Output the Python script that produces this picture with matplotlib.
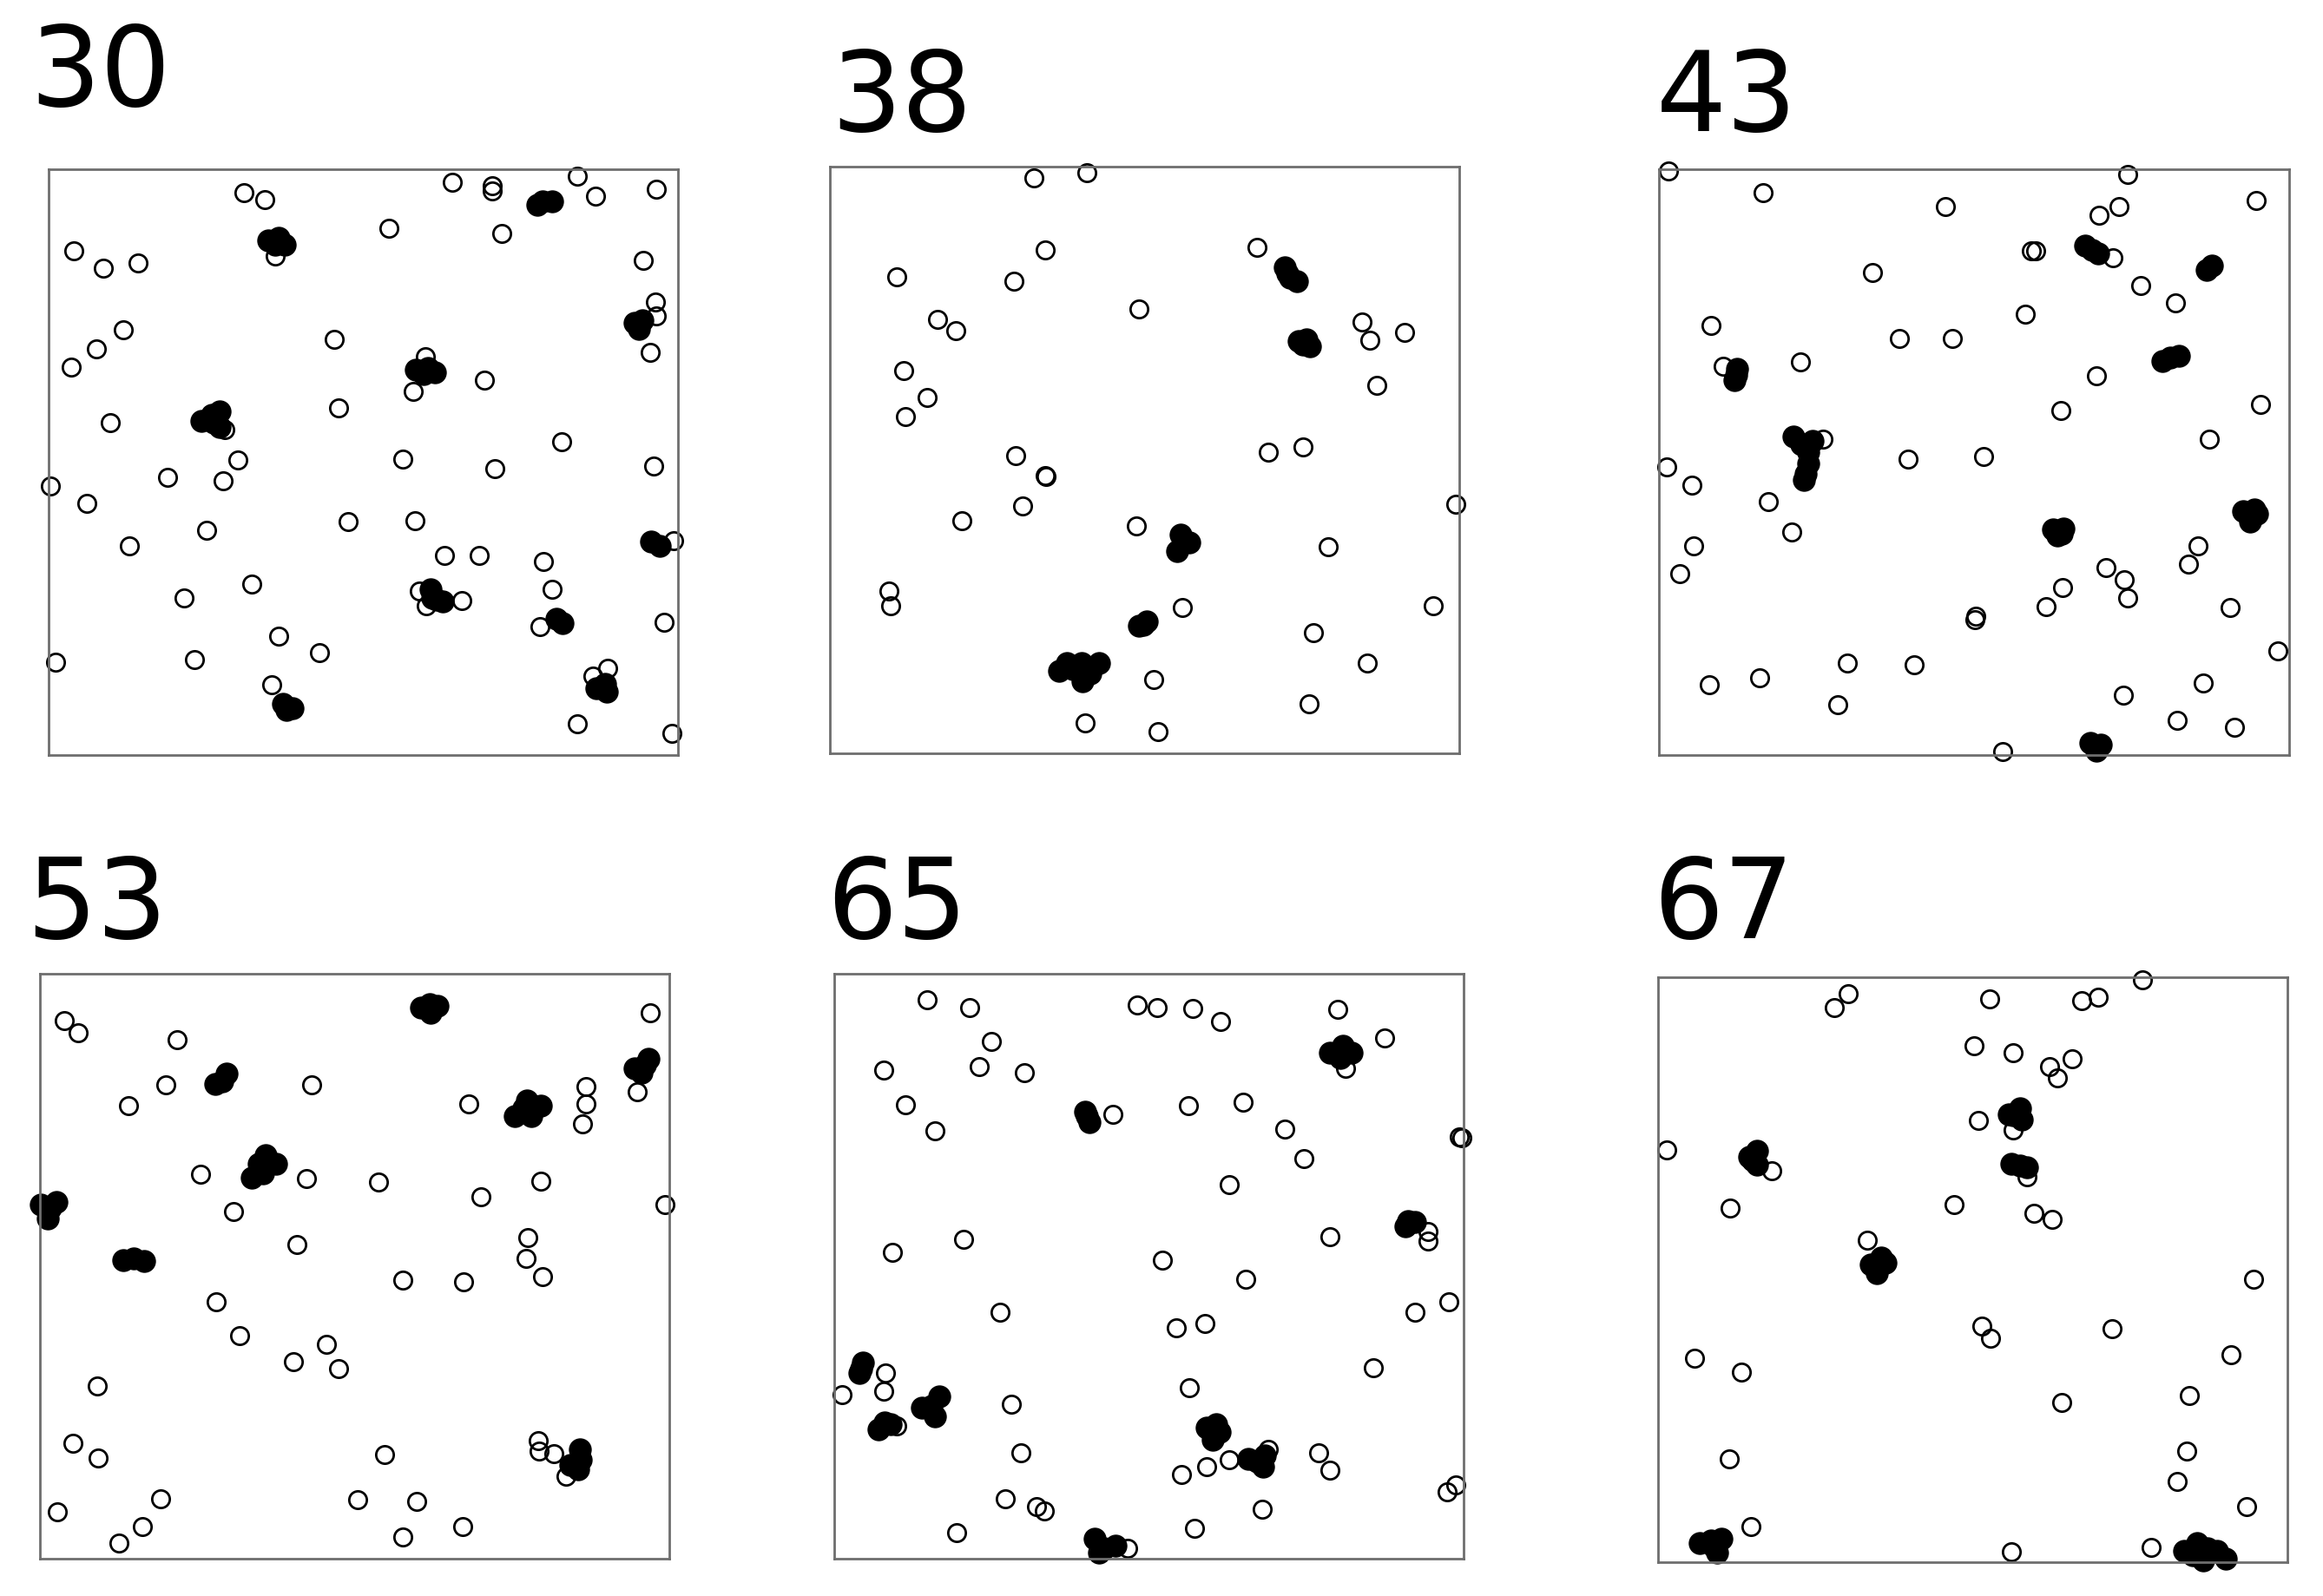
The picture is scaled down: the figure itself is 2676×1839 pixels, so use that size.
import matplotlib
matplotlib.use('Agg')
import matplotlib.pyplot as plt

# panel labels (time steps)
labels = ["30", "38", "43", "53", "65", "67"]

# ---- step 30 ----
p30_open_x = [31.0, 34.3, 64.1, 70.4, 70.5, 84.0, 86.9, 96.5, 54.0, 71.9, 4.0, 8.6, 14.2, 35.9,
              94.4, 96.3, 96.5, 95.6, 11.8, 7.6, 3.6, 45.4, 59.8, 57.9, 69.2, 46.0, 9.7, 27.9,
              81.4, 30.1, 56.2, 70.9, 96.1, 18.9, 27.7, 0.3, 6.1, 47.6, 58.2, 25.1, 99.3, 12.8,
              62.9, 68.3, 78.6, 32.3, 80.0, 21.5, 58.9, 59.9, 65.6, 78.0, 97.8, 36.5, 43.0, 1.1,
              23.2, 35.4, 86.4, 88.8, 84.0, 99.0]
p30_open_y = [96.1, 94.8, 97.8, 97.3, 96.3, 98.9, 95.4, 96.6, 89.9, 89.1, 86.1, 83.2, 84.1, 85.2,
              84.5, 77.3, 75.0, 68.8, 72.6, 69.3, 66.3, 71.0, 68.0, 62.1, 64.0, 59.2, 56.7, 55.5,
              53.4, 50.4, 50.5, 48.9, 49.3, 47.4, 46.8, 45.9, 43.0, 39.9, 40.0, 38.3, 36.6, 35.6,
              34.0, 34.0, 33.0, 29.2, 28.2, 26.7, 27.9, 25.5, 26.3, 21.9, 22.6, 20.3, 17.4, 15.8,
              16.2, 12.0, 13.4, 14.8, 5.2, 3.6]
p30_filled_x = [34.9, 36.5, 37.5, 35.9, 77.6, 80.0, 78.5, 93.0, 93.7, 94.3, 58.3, 60.3, 61.3, 59.6,
                24.2, 25.9, 27.2, 27.2, 26.2, 95.7, 97.0, 60.6, 61.6, 62.6, 60.9, 80.6, 81.6,
                87.0, 88.3, 88.6, 37.2, 38.7, 37.7]
p30_filled_y = [87.9, 88.3, 87.2, 87.2, 94.0, 94.6, 94.6, 73.8, 72.8, 74.2, 65.8, 66.1, 65.4, 65.1,
                57.0, 58.1, 58.7, 56.0, 56.7, 36.4, 35.6, 28.2, 26.5, 26.2, 26.8, 23.2, 22.5,
                11.4, 12.1, 10.7, 8.7, 7.9, 7.6]

# ---- step 38 ----
p38_open_x = [32.4, 40.9, 34.3, 67.9, 10.7, 29.3, 49.2, 17.2, 20.0, 84.6, 85.8, 91.4, 11.8, 86.9,
              15.5, 12.0, 69.7, 75.2, 29.5, 34.3, 34.4, 30.7, 99.5, 21.0, 48.8, 79.2, 9.5, 9.7,
              56.0, 95.9, 76.8, 85.4, 51.5, 76.2, 40.6, 52.2]
p38_open_y = [98.1, 99.0, 85.8, 86.2, 81.2, 80.4, 75.8, 74.0, 72.0, 73.5, 70.4, 71.8, 65.2, 62.7,
              60.7, 57.4, 51.3, 52.2, 50.7, 47.4, 47.2, 42.1, 42.4, 39.7, 38.7, 35.2, 27.6, 25.1,
              24.9, 25.2, 20.6, 15.4, 12.6, 8.4, 5.1, 3.7]
p38_filled_x = [72.3, 73.1, 74.2, 72.7, 74.5, 75.8, 76.3, 75.2, 55.8, 57.1, 55.2, 49.1, 50.4, 49.8,
                36.4, 37.7, 40.1, 42.8, 41.4, 40.2, 38.7]
p38_filled_y = [82.8, 81.1, 80.4, 81.8, 70.3, 70.6, 69.3, 69.6, 37.2, 35.9, 34.5, 21.7, 22.4, 21.9,
                14.0, 15.3, 15.3, 15.3, 13.6, 12.3, 14.3]

# ---- step 43 ----
p43_open_x = [1.4, 74.4, 16.5, 45.5, 73.0, 69.9, 94.8, 59.1, 59.8, 72.0, 33.8, 76.5, 82.0, 58.1,
              8.2, 38.1, 46.6, 10.1, 22.4, 69.4, 95.5, 63.8, 26.0, 87.4, 1.2, 39.5, 51.5, 5.2,
              17.3, 21.1, 5.5, 85.5, 84.1, 3.2, 70.9, 73.8, 64.0, 74.4, 61.4, 90.7, 50.2, 50.1,
              98.3, 29.8, 40.5, 8.0, 16.0, 86.4, 73.7, 28.3, 82.3, 91.4, 54.6]
p43_open_y = [99.7, 99.2, 96.1, 93.7, 93.7, 92.2, 94.7, 86.1, 86.1, 84.9, 82.4, 80.2, 77.2, 75.3,
              73.4, 71.1, 71.1, 66.4, 67.1, 64.7, 59.8, 58.8, 53.9, 53.9, 49.1, 50.5, 51.0, 46.1,
              43.2, 38.0, 35.6, 35.7, 32.6, 30.9, 31.9, 29.9, 28.5, 26.7, 25.3, 25.1, 23.6, 23.1,
              17.7, 15.7, 15.3, 12.0, 13.2, 12.2, 10.1, 8.6, 5.9, 4.7, 0.5]
p43_filled_x = [67.7, 68.7, 69.7, 86.9, 87.8, 79.9, 81.1, 82.5, 12.4, 12.0, 12.2, 21.3, 22.5, 24.4,
                23.6, 23.7, 23.2, 22.9, 62.5, 63.9, 63.2, 64.2, 92.8, 94.5, 93.8, 95.0, 68.5,
                70.1, 69.4]
p43_filled_y = [87.0, 86.3, 85.7, 82.8, 83.6, 67.2, 67.8, 68.2, 65.9, 64.0, 64.9, 54.3, 53.0, 53.6,
                51.7, 49.7, 48.0, 47.0, 38.5, 37.8, 37.5, 38.7, 41.6, 41.9, 39.9, 41.2, 2.0,
                1.7, 0.7]

# ---- step 53 ----
p53_open_x = [3.9, 6.0, 21.8, 97.0, 20.0, 43.2, 14.1, 68.1, 86.8, 86.7, 86.2, 94.8, 25.5, 42.3,
              53.8, 79.5, 70.1, 99.3, 30.7, 40.8, 77.5, 77.2, 79.9, 57.7, 67.3, 28.0, 31.7, 45.5,
              40.2, 47.4, 9.1, 5.3, 9.2, 54.7, 79.1, 79.3, 81.6, 83.5, 19.1, 50.5, 59.8, 2.8,
              16.3, 67.1, 57.6, 12.5]
p53_open_y = [92.0, 90.0, 88.7, 93.3, 81.1, 81.0, 77.4, 77.7, 80.7, 77.7, 74.4, 79.9, 65.7, 65.0,
              64.4, 64.5, 61.9, 60.5, 59.4, 53.7, 55.0, 51.3, 48.2, 47.6, 47.4, 44.0, 38.1, 36.7,
              33.7, 32.5, 29.5, 19.8, 17.2, 17.8, 20.2, 18.5, 18.0, 14.2, 10.3, 10.1, 9.8, 8.0,
              5.5, 5.5, 3.8, 2.7]
p53_filled_x = [60.5, 61.9, 63.2, 62.0, 94.4, 96.6, 95.5, 96.1, 27.8, 29.7, 28.9, 75.4, 77.4, 79.5,
                78.1, 76.8, 33.7, 35.9, 37.5, 35.4, 34.8, 0.2, 2.6, 1.2, 1.6, 13.3, 14.9, 16.5,
                85.8, 84.2, 85.5, 85.9]
p53_filled_y = [94.2, 94.9, 94.6, 93.3, 83.9, 85.5, 83.1, 84.5, 81.2, 83.0, 81.6, 75.7, 78.4, 77.4,
                75.7, 77.1, 65.2, 69.0, 67.6, 65.9, 67.6, 60.5, 61.0, 58.2, 59.9, 51.1, 51.3, 50.9,
                18.7, 16.0, 15.3, 17.0]

# ---- step 65 ----
p65_open_x = [14.8, 21.5, 48.2, 51.3, 57.0, 61.4, 80.0, 87.4, 81.2, 25.0, 7.9, 23.0, 30.2, 11.3,
              16.0, 44.3, 56.3, 65.0, 71.6, 74.6, 62.8, 99.3, 99.7, 94.3, 94.3, 78.8, 20.6, 9.3,
              52.1, 65.4, 97.7, 92.3, 26.4, 58.9, 54.4, 85.7, 8.2, 7.8, 1.2, 56.4, 28.2, 9.9,
              29.7, 68.9, 62.7, 59.2, 55.1, 77.0, 78.8, 97.3, 98.8, 27.2, 32.2, 33.4, 68.0, 19.5,
              57.3, 46.6]
p65_open_y = [95.6, 94.3, 94.7, 94.3, 94.1, 91.8, 93.9, 89.0, 83.9, 88.4, 83.5, 84.1, 83.1, 77.6,
              73.2, 76.0, 77.4, 78.0, 73.4, 68.5, 64.0, 72.2, 72.0, 55.9, 54.3, 55.1, 54.7, 52.4,
              51.1, 47.8, 44.0, 42.2, 42.2, 40.2, 39.5, 32.7, 31.8, 28.6, 28.1, 29.3, 26.5, 22.7,
              18.2, 18.7, 16.9, 15.7, 14.4, 18.2, 15.2, 11.5, 12.6, 10.3, 8.9, 8.2, 8.5, 4.5,
              5.3, 1.8]
p65_filled_x = [78.8, 80.8, 82.2, 80.4, 39.9, 40.6, 40.2, 90.8, 92.3, 91.1, 4.5, 4.0, 4.3, 14.0,
                16.7, 16.0, 15.5, 7.0, 8.0, 9.0, 59.1, 60.7, 60.1, 61.3, 65.8, 68.4, 68.1, 67.1,
                41.4, 42.9, 44.7, 42.1]
p65_filled_y = [86.5, 87.7, 86.5, 85.6, 76.5, 74.7, 75.7, 56.8, 57.6, 57.8, 33.5, 31.8, 32.5, 25.8,
                27.8, 24.4, 26.1, 22.1, 23.4, 23.1, 22.4, 23.1, 20.4, 21.7, 17.1, 17.7, 15.7, 16.7,
                3.5, 1.8, 2.2, 1.1]

# ---- step 67 ----
p67_open_x = [30.2, 28.1, 52.7, 67.3, 69.9, 77.0, 50.2, 56.5, 62.3, 65.8, 63.5, 50.9, 56.4, 1.5,
              18.1, 58.6, 11.5, 47.1, 59.8, 62.7, 33.3, 94.6, 51.5, 52.9, 72.2, 91.0, 5.8, 13.3,
              84.5, 64.2, 11.4, 84.1, 82.5, 93.6, 14.8, 56.2, 78.4]
p67_open_y = [97.2, 94.8, 96.3, 95.9, 96.5, 99.5, 88.3, 87.1, 84.6, 86.0, 82.7, 75.5, 73.8, 70.5,
              66.9, 65.8, 60.5, 61.1, 59.6, 58.6, 55.0, 48.3, 40.3, 38.2, 39.9, 35.4, 34.9, 32.5,
              28.5, 27.3, 17.6, 18.9, 13.8, 9.4, 6.0, 1.8, 2.5]
p67_filled_x = [55.8, 57.5, 57.9, 56.5, 14.6, 15.8, 15.8, 15.1, 56.2, 58.6, 57.5, 33.8, 36.2, 34.8,
                35.5, 6.7, 8.4, 10.1, 9.4, 8.9, 83.6, 85.7, 87.4, 88.8, 90.2, 86.7, 85.0]
p67_filled_y = [76.5, 77.5, 75.6, 76.4, 69.3, 70.3, 67.9, 68.6, 68.0, 67.5, 67.7, 50.8, 51.1, 49.4,
                52.1, 3.3, 3.7, 4.0, 1.6, 2.6, 1.9, 3.3, 2.3, 1.9, 0.6, 0.2, 1.2]

panels = [
    (p30_open_x, p30_open_y, p30_filled_x, p30_filled_y),
    (p38_open_x, p38_open_y, p38_filled_x, p38_filled_y),
    (p43_open_x, p43_open_y, p43_filled_x, p43_filled_y),
    (p53_open_x, p53_open_y, p53_filled_x, p53_filled_y),
    (p65_open_x, p65_open_y, p65_filled_x, p65_filled_y),
    (p67_open_x, p67_open_y, p67_filled_x, p67_filled_y),
]

# axes rectangles [left, bottom, width, height] and label anchors in figure fractions
boxes = [
    [0.0210, 0.5269, 0.2710, 0.3664],
    [0.3571, 0.5278, 0.2710, 0.3673],
    [0.7143, 0.5269, 0.2710, 0.3664],
    [0.0172, 0.0232, 0.2710, 0.3664],
    [0.3591, 0.0232, 0.2710, 0.3664],
    [0.7136, 0.0213, 0.2710, 0.3664],
]
label_pos = [(0.0128, 0.9337), (0.3576, 0.9180), (0.7128, 0.9180),
             (0.0112, 0.4123), (0.3558, 0.4123), (0.7116, 0.4123)]

fig = plt.figure(figsize=(13.38, 9.2), dpi=200)

for (ox, oy, fx, fy), rect, lab, (tx, ty) in zip(panels, boxes, labels, label_pos):
    ax = fig.add_axes(rect)
    ax.plot(ox, oy, 'o', ms=7.3, mfc='none', mec='black', mew=1.0, clip_on=False)
    ax.plot(fx, fy, 'o', ms=9.0, mfc='black', mec='black', mew=0.5, clip_on=False)
    ax.set_xlim(0, 100)
    ax.set_ylim(0, 100)
    ax.set_xticks([])
    ax.set_yticks([])
    for s in ax.spines.values():
        s.set_color('#6e6e6e')
        s.set_linewidth(1.0)
    fig.text(tx, ty, lab, fontsize=46, va='baseline', ha='left', family='DejaVu Sans')

fig.savefig('out.png', dpi=200)
